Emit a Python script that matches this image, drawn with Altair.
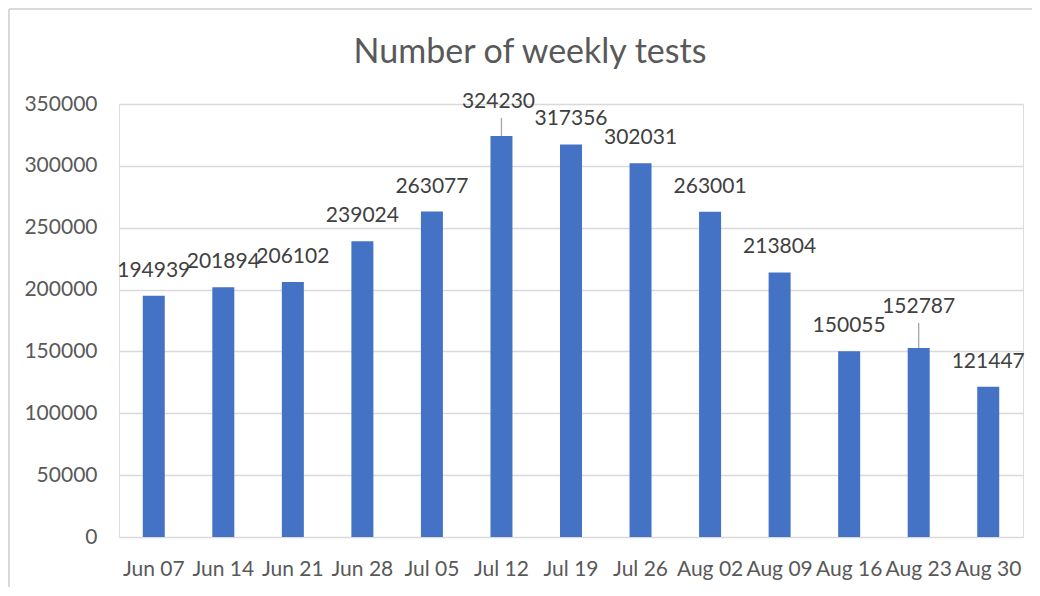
import altair as alt
import pandas as pd

weeks = ["Jun 07", "Jun 14", "Jun 21", "Jun 28", "Jul 05", "Jul 12", "Jul 19",
         "Jul 26", "Aug 02", "Aug 09", "Aug 16", "Aug 23", "Aug 30"]
tests = [194939, 201894, 206102, 239024, 263077, 324230, 317356,
         302031, 263001, 213804, 150055, 152787, 121447]
y_ticks = [0, 50000, 100000, 150000, 200000, 250000, 300000, 350000]
leader_a = ["Jul 12"]
leader_b = ["Aug 23"]
title_text = "Number of weekly tests"

df = pd.DataFrame({"week": weeks, "tests": tests})

FONT = "Lato"
x_enc = alt.X("week:N", sort=weeks, title=None,
              scale=alt.Scale(paddingInner=0, paddingOuter=0),
              axis=alt.Axis(labelAngle=0, labelFont=FONT, labelFontSize=21,
                            labelColor="#595959", ticks=False, tickSize=0,
                            domain=False, grid=False, labelPadding=21,
                            labelOverlap=False, labelBound=False))
y_enc = alt.Y("tests:Q", title=None,
              scale=alt.Scale(domain=[0, 350000], nice=False),
              axis=alt.Axis(values=y_ticks, format="d", labelFont=FONT,
                            labelFontSize=21, labelColor="#595959",
                            ticks=False, tickSize=0, domain=False,
                            grid=True, gridColor="#d9d9d9", gridWidth=1.3,
                            labelPadding=22))

base = alt.Chart(df).encode(x=x_enc, y=y_enc)

bars = base.mark_bar(size=22, color="#4472C4")

text_style = dict(font=FONT, fontSize=21, color="#404040", baseline="alphabetic")

labels = base.transform_filter(
    ~alt.FieldOneOfPredicate(field="week", oneOf=leader_a + leader_b)
).mark_text(dy=-19, **text_style).encode(text=alt.Text("tests:Q", format="d"))

labels_a = base.transform_filter(
    alt.FieldOneOfPredicate(field="week", oneOf=leader_a)
).mark_text(dy=-28, dx=-3, **text_style).encode(text=alt.Text("tests:Q", format="d"))

labels_b = base.transform_filter(
    alt.FieldOneOfPredicate(field="week", oneOf=leader_b)
).mark_text(dy=-35, **text_style).encode(text=alt.Text("tests:Q", format="d"))

lead_a = base.transform_filter(
    alt.FieldOneOfPredicate(field="week", oneOf=leader_a)
).mark_rule(color="#a6a6a6", strokeWidth=1.3, y2Offset=-18).encode(y2="tests:Q")

lead_b = base.transform_filter(
    alt.FieldOneOfPredicate(field="week", oneOf=leader_b)
).mark_rule(color="#a6a6a6", strokeWidth=1.3, y2Offset=-25).encode(y2="tests:Q")

border_left = alt.Chart(df).mark_rule(color="#d9d9d9", strokeWidth=2).encode(
    x=alt.value(-110), y=alt.value(-95), y2=alt.value(500))
border_top = alt.Chart(df).mark_rule(color="#d9d9d9", strokeWidth=2).encode(
    x=alt.value(-110), x2=alt.value(915), y=alt.value(-95))

chart = alt.layer(
    border_left, border_top, bars, lead_a, lead_b, labels, labels_a, labels_b
).properties(
    width=904, height=433,
    title=alt.TitleParams(title_text, font=FONT, fontSize=34, fontWeight="normal",
                          color="#595959", anchor="middle", frame="group",
                          baseline="alphabetic", offset=0, dx=-41, dy=89),
    autosize=alt.AutoSizeParams(type="none"),
    padding={"left": 111, "top": 96, "right": 9, "bottom": 50},
).configure_view(stroke=None).configure(background="white")

chart.save("out.html", embed_options={"renderer": "svg", "actions": False})
